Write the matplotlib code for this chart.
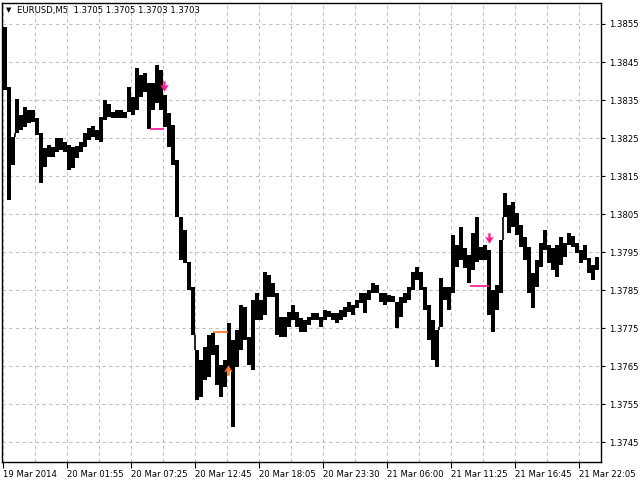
import numpy as np
import matplotlib
matplotlib.use("Agg")
import matplotlib.pyplot as plt
from matplotlib.path import Path

# ---- data: EURUSD M5, high / low per 20-minute group (4 bars) ----
highs = [1.38542, 1.38384, 1.38253, 1.38353, 1.38311, 1.38332, 1.38324, 1.38324, 1.38303, 1.38263,
         1.38224, 1.38232, 1.38226, 1.38250, 1.38250, 1.38239, 1.38232, 1.38226, 1.38229, 1.38239,
         1.38263, 1.38276, 1.38282, 1.38271, 1.38305, 1.38350, 1.38339, 1.38318, 1.38324, 1.38324,
         1.38318, 1.38384, 1.38358, 1.38434, 1.38416, 1.38421, 1.38395, 1.38395, 1.38442, 1.38429,
         1.38363, 1.38316, 1.38284, 1.38192, 1.38042, 1.38008, 1.37924, 1.37858, 1.37692, 1.37666,
         1.37700, 1.37732, 1.37737, 1.37705, 1.37653, 1.37666, 1.37763, 1.37718, 1.37745, 1.37811,
         1.37805, 1.37726, 1.37824, 1.37842, 1.37824, 1.37897, 1.37890, 1.37868, 1.37842, 1.37779,
         1.37779, 1.37792, 1.37811, 1.37792, 1.37776, 1.37771, 1.37779, 1.37790, 1.37790, 1.37779,
         1.37797, 1.37795, 1.37790, 1.37790, 1.37797, 1.37805, 1.37818, 1.37811, 1.37824, 1.37842,
         1.37842, 1.37850, 1.37868, 1.37863, 1.37842, 1.37842, 1.37837, 1.37834, 1.37818, 1.37832,
         1.37842, 1.37858, 1.37897, 1.37911, 1.37897, 1.37858, 1.37811, 1.37771, 1.37745, 1.37882,
         1.37858, 1.37858, 1.37995, 1.37968, 1.38016, 1.37961, 1.37942, 1.38000, 1.38042, 1.37963,
         1.37968, 1.37955, 1.37850, 1.37863, 1.37982, 1.38105, 1.38074, 1.38082, 1.38053, 1.38021,
         1.37989, 1.37963, 1.37895, 1.37929, 1.37974, 1.38008, 1.37968, 1.37961, 1.37968, 1.37989,
         1.37974, 1.38000, 1.37992, 1.37974, 1.37955, 1.37968, 1.37934, 1.37916, 1.37937]
lows = [1.38376, 1.38087, 1.38179, 1.38263, 1.38271, 1.38279, 1.38290, 1.38292, 1.38258, 1.38132,
        1.38174, 1.38200, 1.38200, 1.38213, 1.38218, 1.38213, 1.38166, 1.38171, 1.38197, 1.38213,
        1.38226, 1.38245, 1.38253, 1.38245, 1.38239, 1.38297, 1.38305, 1.38303, 1.38303, 1.38303,
        1.38303, 1.38318, 1.38311, 1.38324, 1.38358, 1.38371, 1.38274, 1.38324, 1.38342, 1.38324,
        1.38279, 1.38226, 1.38179, 1.38042, 1.37929, 1.37921, 1.37850, 1.37732, 1.37561, 1.37568,
        1.37613, 1.37621, 1.37679, 1.37600, 1.37568, 1.37595, 1.37640, 1.37489, 1.37647, 1.37692,
        1.37718, 1.37653, 1.37640, 1.37771, 1.37771, 1.37784, 1.37832, 1.37832, 1.37732, 1.37726,
        1.37726, 1.37753, 1.37771, 1.37753, 1.37740, 1.37740, 1.37758, 1.37771, 1.37771, 1.37753,
        1.37771, 1.37779, 1.37771, 1.37763, 1.37771, 1.37779, 1.37792, 1.37784, 1.37803, 1.37816,
        1.37790, 1.37824, 1.37842, 1.37842, 1.37818, 1.37811, 1.37818, 1.37818, 1.37750, 1.37779,
        1.37816, 1.37824, 1.37850, 1.37876, 1.37850, 1.37797, 1.37718, 1.37666, 1.37647, 1.37753,
        1.37824, 1.37797, 1.37842, 1.37911, 1.37929, 1.37908, 1.37868, 1.37903, 1.37924, 1.37929,
        1.37929, 1.37784, 1.37740, 1.37797, 1.37842, 1.38042, 1.38000, 1.38016, 1.37995, 1.37963,
        1.37929, 1.37842, 1.37803, 1.37858, 1.37911, 1.37955, 1.37921, 1.37903, 1.37884, 1.37916,
        1.37937, 1.37968, 1.37963, 1.37947, 1.37921, 1.37929, 1.37895, 1.37876, 1.37903]

time_labels = ["19 Mar 2014", "20 Mar 01:55", "20 Mar 07:25", "20 Mar 12:45", "20 Mar 18:05",
               "20 Mar 23:30", "21 Mar 06:00", "21 Mar 11:25", "21 Mar 16:45", "21 Mar 22:05"]
price_ticks = [1.3745, 1.3755, 1.3765, 1.3775, 1.3785, 1.3795, 1.3805, 1.3815, 1.3825, 1.3835,
               1.3845, 1.3855]

# trade signals: arrow position (group index, price), direction, level line
sig_x = [39.75, 55.75, 121.0]
sig_price = [1.38386, 1.37640, 1.37987]
sig_dir = ["down", "up", "down"]
sig_color = ["#FF1493", "#FF7020", "#FF1493"]
line_x0 = [36.25, 52.0, 116.25]
line_x1 = [39.75, 55.75, 121.0]
line_price = [1.38274, 1.37740, 1.37861]

title = "EURUSD,M5  1.3705 1.3705 1.3703 1.3703"

# ---- drawing ----
W, H = 640, 480
fig = plt.figure(figsize=(6.4, 4.8), dpi=100)
fig.patch.set_facecolor("white")
ax = fig.add_axes([2 / W, 18 / H, 599 / W, 459.3 / H])
ax.set_facecolor("white")

x = np.arange(len(highs))
hi = np.array(highs)
lo = np.array(lows)
ax.bar(x, hi - lo, bottom=lo, width=0.85, color="black", linewidth=0, zorder=3)

# connect consecutive groups where price gapped between them
cx, cy0, cy1 = [], [], []
for i in range(len(hi) - 1):
    if lo[i] > hi[i + 1]:
        cx.append(i + 0.5); cy0.append(hi[i + 1]); cy1.append(lo[i])
    elif hi[i] < lo[i + 1]:
        cx.append(i + 0.5); cy0.append(hi[i]); cy1.append(lo[i + 1])
ax.vlines(cx, cy0, cy1, colors="black", linewidth=1.2, zorder=3)

down_arrow = Path([(-0.22, 1.0), (0.22, 1.0), (0.22, 0.1), (0.85, 0.35), (0.0, -1.0),
                   (-0.85, 0.35), (-0.22, 0.1), (-0.22, 1.0)],
                  [Path.MOVETO] + [Path.LINETO] * 6 + [Path.CLOSEPOLY])
up_arrow = Path([(vx, -vy) for vx, vy in down_arrow.vertices], down_arrow.codes)

for xs, xe, p, c in zip(line_x0, line_x1, line_price, sig_color):
    ax.hlines(p, xs, xe, colors=c, linewidth=1.2, zorder=4)
for xs, p, d, c in zip(sig_x, sig_price, sig_dir, sig_color):
    ax.plot([xs], [p], marker=down_arrow if d == "down" else up_arrow, markersize=7.5,
            color=c, markeredgewidth=0, linestyle="none", zorder=5)

ax.set_xlim(-0.75, 149.0)
ax.set_ylim(1.37398, 1.38606)

ax.set_xticks([-0.5 + 16 * k for k in range(len(time_labels))])
ax.set_xticklabels(time_labels)
ax.set_xticks([-0.5 + 8 * k for k in range(1, 19)], minor=True)
for lbl in ax.get_xticklabels():
    lbl.set_horizontalalignment("left")

ax.yaxis.tick_right()
ax.set_yticks(price_ticks)
ax.set_yticklabels([f"{p:.4f}" for p in price_ticks])

ax.tick_params(axis="x", which="major", direction="out", length=4, pad=2,
               labelsize=6.1, colors="black", width=0.8)
ax.tick_params(axis="x", which="minor", length=0)
ax.tick_params(axis="y", direction="out", length=3, pad=3, labelsize=6.1,
               colors="black", width=0.8)

ax.grid(True, which="both", color="#C0C0C0", linestyle=(0, (3, 3)), linewidth=0.8, zorder=0)
ax.set_axisbelow(True)
for s in ax.spines.values():
    s.set_color("black")
    s.set_linewidth(1.0)

fig.text(6 / W, 1 - 10 / H, "\u25BC", fontsize=5, color="black", ha="left", va="center")
fig.text(17 / W, 1 - 10 / H, title, fontsize=6.1, color="black", ha="left", va="center")

fig.savefig("out.png", dpi=100)
